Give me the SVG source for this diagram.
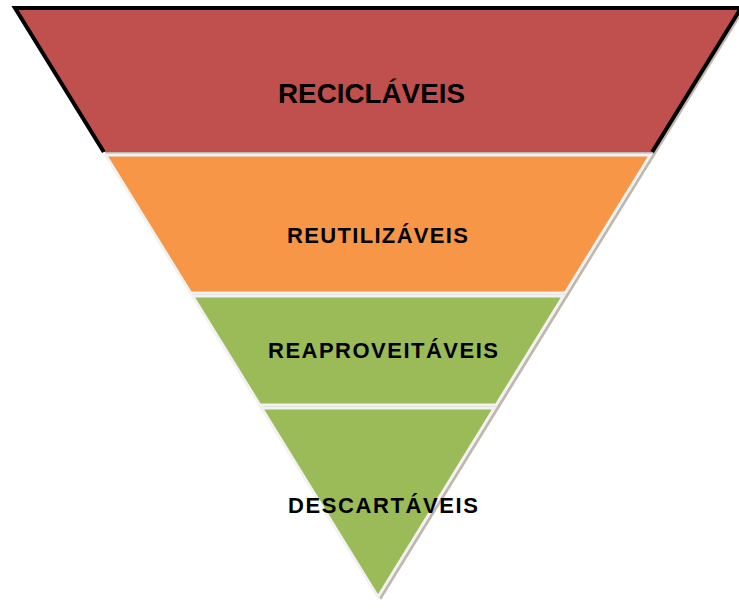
<svg xmlns="http://www.w3.org/2000/svg" width="739" height="609" viewBox="0 0 739 609">
  <defs>
    <style>
      .band { stroke: #f2f2f2; stroke-width: 3; stroke-linejoin: miter; }
      .lbl { font-family: "Liberation Sans", Arial, sans-serif; font-weight: bold; fill: #000; text-anchor: middle; }
    </style>
  </defs>
  <rect width="739" height="609" fill="#ffffff"/>
  <g id="shadow">
    <polygon points="18,11 744,11 381,600" fill="#8c7b6b" opacity="0.55"/>
  </g>
  <g id="reciclaveis">
    <polygon points="15,8 741,8 652.2,152 103.8,152" fill="#c0504d"/>
    <polyline points="103.8,152 15,8 741,8 652.2,152" fill="none" stroke="#000" stroke-width="4" stroke-linejoin="miter"/>
    <text class="lbl" x="371.5" y="103" font-size="28" textLength="187" lengthAdjust="spacingAndGlyphs">RECICLÁVEIS</text>
  </g>
  <g id="reutilizaveis">
    <polygon class="band" points="105.6,155 650.4,155 565.3,293 190.7,293" fill="#f79646"/>
    <text class="lbl" x="377.5" y="243" font-size="22" textLength="181" lengthAdjust="spacing">REUTILIZÁVEIS</text>
  </g>
  <g id="reaproveitaveis">
    <polygon class="band" points="192.6,296 563.4,296 496.2,405 259.8,405" fill="#9bbb59"/>
    <text class="lbl" x="383" y="358" font-size="22" textLength="230" lengthAdjust="spacing">REAPROVEITÁVEIS</text>
  </g>
  <g id="descartaveis">
    <polygon class="band" points="261.6,408 494.4,408 378,597" fill="#9bbb59"/>
    <text class="lbl" x="383" y="513" font-size="22" textLength="190" lengthAdjust="spacing">DESCARTÁVEIS</text>
  </g>
  <g id="connectors"/>
</svg>
